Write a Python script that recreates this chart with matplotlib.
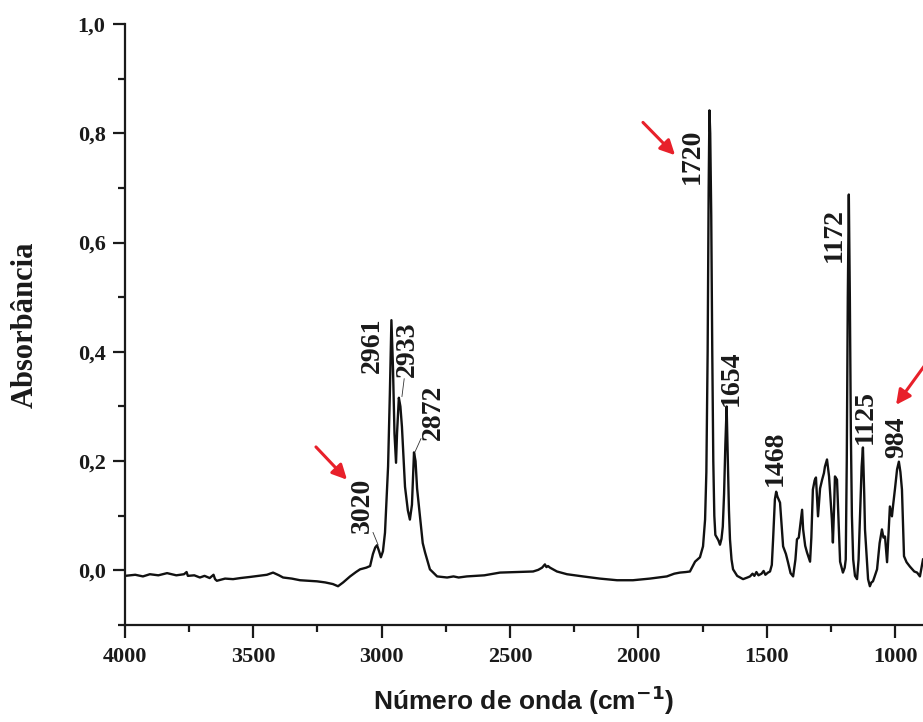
import matplotlib
matplotlib.use('Agg')
import matplotlib.pyplot as plt
from matplotlib.ticker import MultipleLocator, FuncFormatter

# Espectro FTIR (numero de onda, absorbancia)
numero_onda = [4000, 3960, 3930, 3903, 3870, 3836, 3800, 3770, 3760, 3755, 3730, 3708, 3690, 3670,
               3655, 3649, 3642, 3610, 3579, 3550, 3513, 3480, 3447, 3423, 3400, 3384, 3350, 3318,
               3285, 3252, 3220, 3190, 3170, 3150, 3123, 3100, 3084, 3060, 3045, 3034, 3025, 3018,
               3010, 3003, 2995, 2987, 2975, 2968, 2962, 2956, 2950, 2944, 2940, 2933, 2927, 2921,
               2909, 2898, 2890, 2882, 2874, 2868, 2862, 2851, 2840, 2831, 2812, 2784, 2745, 2720,
               2700, 2668, 2600, 2539, 2470, 2410, 2390, 2375, 2364, 2358, 2352, 2344, 2317, 2278,
               2216, 2150, 2083, 2021, 1955, 1889, 1860, 1838, 1815, 1799, 1779, 1760, 1748, 1740,
               1735, 1730, 1726, 1723, 1720, 1716, 1712, 1708, 1704, 1700, 1694, 1688, 1682, 1676,
               1671, 1666, 1661, 1656, 1651, 1647, 1643, 1637, 1631, 1615, 1592, 1575, 1565, 1555,
               1548, 1540, 1532, 1520, 1512, 1505, 1495, 1487, 1480, 1475, 1468, 1463, 1458, 1448,
               1436, 1425, 1417, 1407, 1397, 1388, 1382, 1375, 1370, 1362, 1358, 1350, 1343, 1331,
               1326, 1320, 1313, 1308, 1300, 1292, 1284, 1277, 1273, 1265, 1257, 1250, 1246, 1242,
               1237, 1234, 1226, 1220, 1214, 1203, 1196, 1192, 1188, 1184, 1180, 1176, 1172, 1168,
               1163, 1156, 1148, 1142, 1136, 1130, 1125, 1120, 1117, 1110, 1105, 1098, 1092, 1086,
               1080, 1070, 1060, 1051, 1045, 1039, 1031, 1025, 1020, 1012, 1008, 1000, 992, 985,
               979, 973, 965, 955, 942, 925, 914, 903, 897, 891]
absorbancia = [-0.010, -0.008, -0.011, -0.007, -0.009, -0.005, -0.009, -0.007, -0.003, -0.010, -0.009,
               -0.013, -0.010, -0.014, -0.008, -0.016, -0.019, -0.015, -0.016, -0.014, -0.012, -0.010,
               -0.008, -0.004, -0.009, -0.013, -0.015, -0.018, -0.019, -0.020, -0.022, -0.025, -0.029,
               -0.022, -0.011, -0.003, 0.002, 0.005, 0.008, 0.030, 0.042, 0.046, 0.035, 0.024, 0.035,
               0.069, 0.190, 0.325, 0.458, 0.373, 0.250, 0.197, 0.252, 0.316, 0.300, 0.263, 0.153,
               0.110, 0.093, 0.120, 0.216, 0.200, 0.150, 0.099, 0.050, 0.033, 0.002, -0.011, -0.013,
               -0.011, -0.013, -0.011, -0.009, -0.004, -0.003, -0.002, 0.001, 0.005, 0.011, 0.006,
               0.008, 0.005, -0.002, -0.007, -0.011, -0.015, -0.018, -0.018, -0.015, -0.011, -0.006,
               -0.004, -0.003, -0.002, 0.016, 0.024, 0.044, 0.093, 0.180, 0.400, 0.700, 0.842, 0.800,
               0.650, 0.400, 0.200, 0.100, 0.065, 0.060, 0.055, 0.047, 0.058, 0.080, 0.140, 0.230,
               0.300, 0.197, 0.110, 0.057, 0.020, 0.002, -0.010, -0.016, -0.013, -0.011, -0.006,
               -0.010, -0.003, -0.009, -0.006, -0.001, -0.008, -0.004, -0.002, 0.010, 0.057, 0.130,
               0.144, 0.135, 0.124, 0.044, 0.030, 0.015, -0.005, -0.011, 0.020, 0.057, 0.060, 0.080,
               0.111, 0.075, 0.045, 0.033, 0.016, 0.060, 0.148, 0.165, 0.170, 0.099, 0.150, 0.166,
               0.178, 0.190, 0.203, 0.172, 0.120, 0.093, 0.051, 0.120, 0.172, 0.166, 0.090, 0.016,
               -0.004, 0.005, 0.020, 0.200, 0.500, 0.688, 0.500, 0.250, 0.100, 0.020, -0.010, -0.016,
               0.020, 0.106, 0.190, 0.225, 0.140, 0.075, 0.020, -0.016, -0.029, -0.022, -0.020,
               -0.012, 0.002, 0.050, 0.075, 0.060, 0.062, 0.015, 0.070, 0.117, 0.099, 0.117, 0.150,
               0.185, 0.199, 0.180, 0.148, 0.026, 0.015, 0.007, -0.002, -0.004, -0.011, 0.005, 0.020]

# etiquetas de picos: texto, posicion del texto, punto del pico (None = sin linea guia)
picos = ['3020', '2961', '2933', '2872', '1720', '1654', '1468', '1172', '1125', '984']
picos_xy_texto = [(3077, 0.119), (3038, 0.413), (2898, 0.404), (2800, 0.290), (1791, 0.758),
                  (1639, 0.352), (1468, 0.205), (1238, 0.614), (1117, 0.281), (992, 0.243)]
picos_guia = [(3014, 0.047), None, (2921, 0.318), (2870, 0.217), None,
              None, None, None, None, None]

# flechas rojas (cola, punta)
flechas = [((3256, 0.226), (3135, 0.166)),
           ((1982, 0.820), (1857, 0.760)),
           ((880, 0.378), (996, 0.303))]

serif = 'Liberation Serif'

fig = plt.figure(figsize=(9.23, 7.22), dpi=100)
ax = fig.add_axes([0.1354, 0.1343, 0.8646, 0.8324])

ax.plot(numero_onda, absorbancia, color='#111111', lw=1.7)

ax.set_xlim(4000, 891)
ax.set_ylim(-0.1, 1.0)

ax.spines['top'].set_visible(False)
ax.spines['right'].set_visible(False)
for s in ['left', 'bottom']:
    ax.spines[s].set_linewidth(1.6)
    ax.spines[s].set_color('#1a1a1a')

ax.xaxis.set_major_locator(MultipleLocator(500))
ax.xaxis.set_minor_locator(MultipleLocator(250))
ax.yaxis.set_major_locator(MultipleLocator(0.2))
ax.yaxis.set_minor_locator(MultipleLocator(0.1))
ax.yaxis.set_major_formatter(FuncFormatter(lambda v, p: f'{v:.1f}'.replace('.', ',')))
ax.tick_params(which='major', direction='out', length=9, width=1.6, color='#1a1a1a')
ax.tick_params(which='minor', direction='out', length=5, width=1.6, color='#1a1a1a')
ax.tick_params(axis='x', which='major', pad=7)
ax.tick_params(axis='y', which='major', pad=5)
for lab in ax.get_xticklabels() + ax.get_yticklabels():
    lab.set_fontfamily(serif)
    lab.set_fontweight('bold')
    lab.set_fontsize(16)
    lab.set_color('#1a1a1a')

plt.rcParams['mathtext.fontset'] = 'custom'
plt.rcParams['mathtext.rm'] = 'Liberation Sans:bold'
plt.rcParams['mathtext.bf'] = 'Liberation Sans:bold'
ax.set_xlabel('Número de onda (cm$^{\\mathbf{-1}}$)', fontfamily='Liberation Sans',
              fontweight='bold', fontsize=19, labelpad=12, color='#1a1a1a')
ax.set_ylabel('Absorbância', fontfamily=serif, fontweight='bold', fontsize=22,
              labelpad=27, color='#1a1a1a')

for txt, xyt, guia in zip(picos, picos_xy_texto, picos_guia):
    ax.text(xyt[0], xyt[1], txt, rotation=90, ha='center', va='center',
            fontfamily=serif, fontweight='bold', fontsize=20, color='#1a1a1a')
    if guia is not None:
        ax.annotate('', xy=guia, xytext=xyt, textcoords='data',
                    arrowprops=dict(arrowstyle='-', lw=0.6, color='#333333',
                                    shrinkA=21, shrinkB=0))

for cola, punta in flechas:
    ax.annotate('', xy=punta, xytext=cola, annotation_clip=False,
                arrowprops=dict(arrowstyle='-|>', color='#e8202a', lw=2.2,
                                mutation_scale=22, shrinkA=0, shrinkB=0))

fig.savefig('out.png', dpi=100)
